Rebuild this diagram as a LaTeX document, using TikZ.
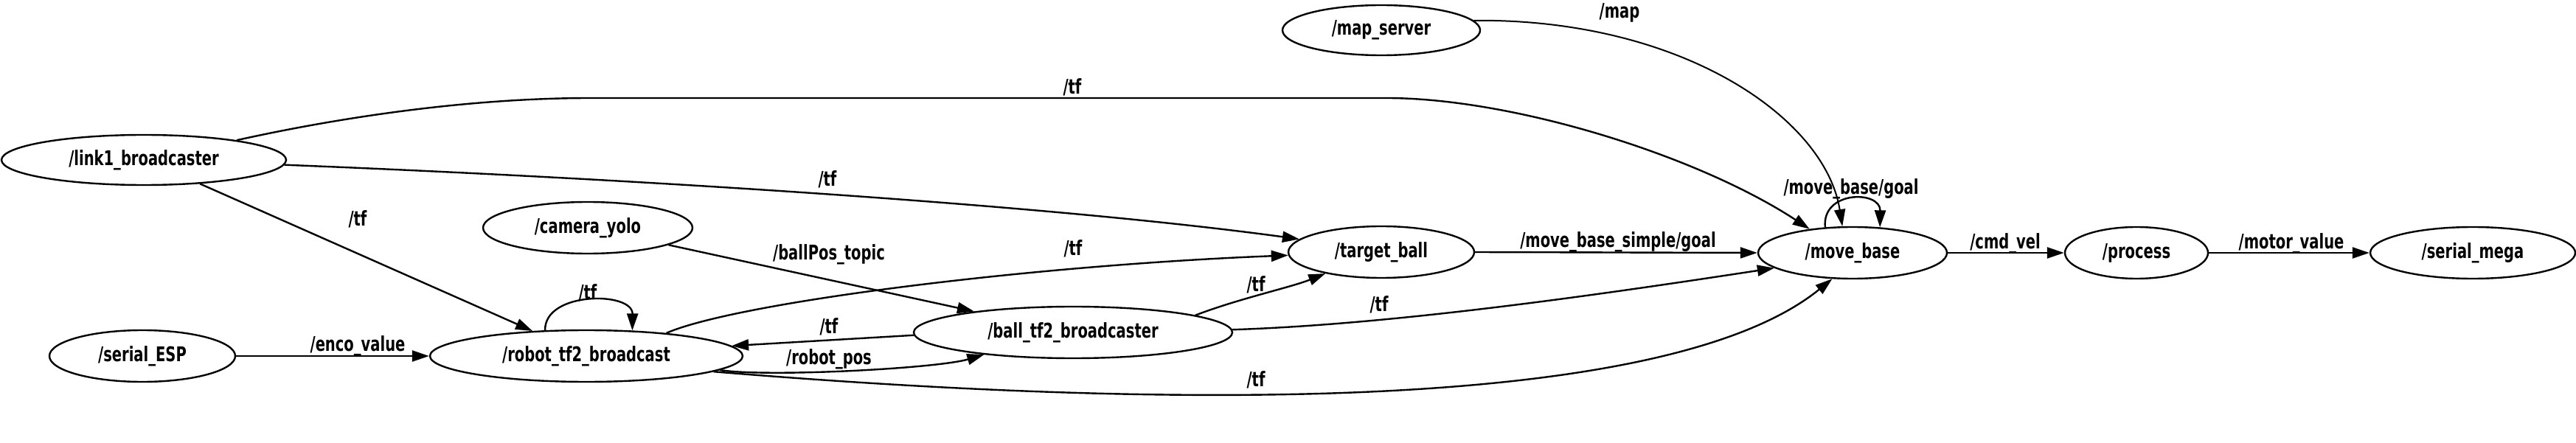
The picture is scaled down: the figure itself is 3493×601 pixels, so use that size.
\documentclass[tikz,border=0pt]{standalone}
\usepackage{fontspec}
\newfontfamily\labfont{DejaVu Sans}[FakeStretch=0.71]
\usetikzlibrary{shapes.geometric,arrows.meta}
\begin{document}
\begin{tikzpicture}[x=1pt,y=-1pt,
  every node/.style={font={\labfont\bfseries\fontsize{27.5}{31}\selectfont}},
  ros/.style={ellipse, draw, line width=2.4pt, inner sep=0pt},
  edge/.style={line width=2.4pt, -{Triangle[length=23pt,width=15pt]}},
  thinedge/.style={line width=2pt, -{Triangle[length=23pt,width=15pt]}},
  lab/.style={inner sep=0pt}]
\useasboundingbox (0,0) rectangle (3493,601);
% nodes
\node[ros, minimum width=268pt, minimum height=68pt] (map) at (1873,41) {/map\_server};
\node[ros, minimum width=386pt, minimum height=68pt] (link1) at (195,217) {/link1\_broadcaster};
\node[ros, minimum width=284pt, minimum height=70pt] (cam) at (797,309) {/camera\_yolo};
\node[ros, minimum width=252pt, minimum height=70pt] (esp) at (193,483) {/serial\_ESP};
\node[ros, minimum width=424pt, minimum height=70pt] (robot) at (795,483) {/robot\_tf2\_broadcast};
\node[ros, minimum width=432pt, minimum height=70pt] (ball) at (1455,451) {/ball\_tf2\_broadcaster};
\node[ros, minimum width=252pt, minimum height=70pt] (tb) at (1873,342) {/target\_ball};
\node[ros, minimum width=256pt, minimum height=70pt] (mb) at (2512,343) {/move\_base};
\node[ros, minimum width=194pt, minimum height=70pt] (proc) at (2897,343) {/process};
\node[ros, minimum width=278pt, minimum height=70pt] (mega) at (3353,343) {/serial\_mega};
% edges
\draw[thinedge] (map.6) .. controls (2280,25) and (2475,160) .. (mb.111);
\draw[edge] (link1.12) .. controls (480,155) and (650,133) .. (800,133) -- (1880,133) .. controls (2050,133) and (2300,210) .. (mb.151);
\draw[edge] (link1.-2) .. controls (800,240) and (1400,275) .. (tb.171);
\draw[edge] (link1.-23) -- (robot.155);
\draw[edge] (esp.east) -- (robot.west);
\draw[edge] (cam.-12) -- (ball.168);
\draw[edge] (robot.148) .. controls (738,395) and (858,395) .. (robot.29);
\draw[edge] (robot.16.5) .. controls (1000,410) and (1400,360) .. (tb.182);
\draw[edge] (ball.181) -- (robot.4.5);
\draw[edge] (robot.-6.8) .. controls (1040,512) and (1270,500) .. (ball.194);
\draw[edge] (robot.-7.6) .. controls (1400,540) and (2230,585) .. (mb.232);
\draw[edge] (ball.8.8) .. controls (1680,405) and (1750,390) .. (tb.201.7);
\draw[edge] (ball.1) .. controls (1900,440) and (2200,395) .. (mb.191.4);
\draw[edge] (tb.east) -- (mb.west);
\draw[edge] (mb.137.8) .. controls (2470,258) and (2550,258) .. (mb.43.9);
\draw[edge] (mb.east) -- (proc.west);
\draw[edge] (proc.east) -- (mega.west);
% labels
\node[lab] (lmap) at (2196,17) {/map};
\node[lab] (ltf1) at (1454,118) {/tf};
\node[lab] (ltf2) at (1122,243) {/tf};
\node[lab] (ltf3) at (485,297) {/tf};
\node[lab] (lenco) at (485,469) {/enco\_value};
\node[lab] (lball) at (1124,345) {/ballPos\_topic};
\node[lab] (ltf4) at (797,397) {/tf};
\node[lab] (ltf5) at (1455,337) {/tf};
\node[lab] (ltf6) at (1124,443) {/tf};
\node[lab] (lrpos) at (1124,487) {/robot\_pos};
\node[lab] (ltf7) at (1703,515) {/tf};
\node[lab] (ltf8) at (1703,386) {/tf};
\node[lab] (ltf9) at (1870,413) {/tf};
\node[lab] (lmbs) at (2194,328) {/move\_base\_simple/goal};
\node[lab] (lmbg) at (2510,256) {/move\_base/goal};
\node[lab] (lcmd) at (2719,330) {/cmd\_vel};
\node[lab] (lmot) at (3107,330) {/motor\_value};
\end{tikzpicture}
\end{document}
